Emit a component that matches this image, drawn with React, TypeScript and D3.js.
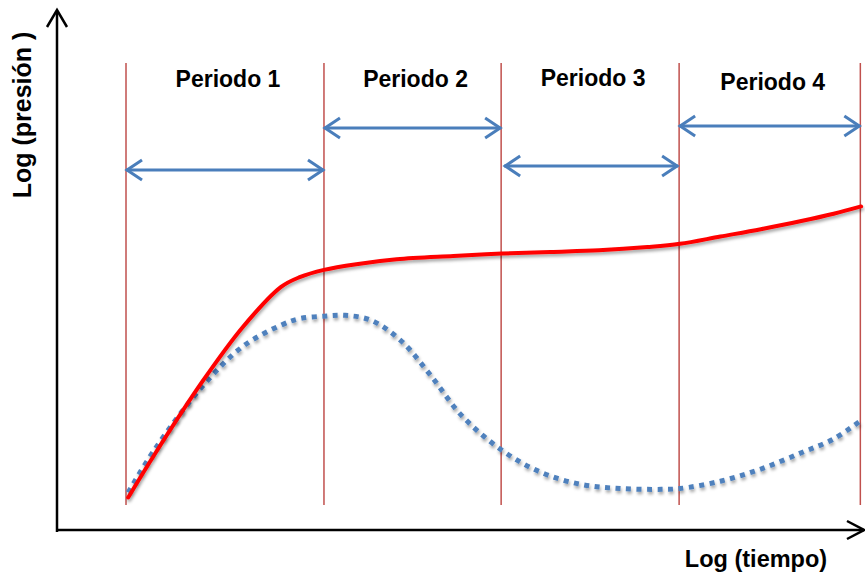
import React from "react";
import * as d3 from "d3";

// Abstract units: x = log(time) position, y = log(pressure) level
const periodBounds = [0.853, 3.3, 5.49, 7.69, 9.93];
const periodLabels = ["Periodo 1", "Periodo 2", "Periodo 3", "Periodo 4"];
const arrowLevels = [4.428, 4.945, 4.477, 4.969];
const labelLevels = [5.449, 5.449, 5.461, 5.412];

const redX = [0.88, 1.2, 1.8, 2.3, 2.77, 3.0, 3.3, 3.7, 4.2, 4.9, 5.5, 6.1, 6.7, 7.3, 7.7, 8.2, 8.7, 9.2, 9.6, 9.94];
const redY = [0.4, 0.92, 1.83, 2.5, 2.99, 3.11, 3.2, 3.27, 3.33, 3.37, 3.4, 3.42, 3.44, 3.48, 3.52, 3.61, 3.7, 3.8, 3.89, 3.98];

const blueX = [0.88, 1.2, 1.8, 2.3, 2.77, 3.0, 3.3, 3.56, 3.88, 4.25, 4.62, 5.0, 5.5, 5.98, 6.48, 6.97, 7.47, 7.7, 8.2, 8.7, 9.2, 9.6, 9.94];
const blueY = [0.46, 0.98, 1.77, 2.26, 2.52, 2.6, 2.63, 2.64, 2.58, 2.33, 1.9, 1.41, 0.98, 0.71, 0.56, 0.51, 0.5, 0.51, 0.6, 0.75, 0.95, 1.12, 1.35];

const xAxisLabel = "Log (tiempo)";
const yAxisLabel = "Log (presión )";

const W = 865;
const H = 573;
const x0 = 57;
const yBase = 530;

export default function App() {
  const x = d3.scaleLinear().domain([0, 10]).range([x0, x0 + 809]);
  const y = d3.scaleLinear().domain([0, 6.5]).range([yBase, yBase - 6.5 * 81.3]);

  const mk = (xs: number[], ys: number[]) =>
    d3
      .line<[number, number]>()
      .x((d) => x(d[0]))
      .y((d) => y(d[1]))
      .curve(d3.curveCatmullRom.alpha(0.5))(xs.map((v, i) => [v, ys[i]]))!;

  const redPath = mk(redX, redY);
  const bluePath = mk(blueX, blueY);

  const font = "Liberation Sans, Arial, sans-serif";
  const blue = "#4A7EBB";
  const vTop = 63;
  const vBot = 505;

  return (
    <svg width={W} height={H} style={{ position: "absolute", left: 0, top: 0, background: "#fff" }}>
      <defs>
        <filter id="sh" x="-10%" y="-10%" width="120%" height="130%">
          <feDropShadow dx="1" dy="2.5" stdDeviation="1.6" floodColor="#000" floodOpacity="0.35" />
        </filter>
      </defs>

      {/* axes */}
      <line x1={x0} y1={yBase + 2} x2={x0} y2={11} stroke="#000" strokeWidth={2.5} />
      <polyline points={`${x0 - 10},${27} ${x0},${10} ${x0 + 10},${27}`} fill="none" stroke="#000" strokeWidth={2.5} />
      <line x1={x0 - 1} y1={yBase} x2={W - 1} y2={yBase} stroke="#000" strokeWidth={2.5} />
      <polyline points={`${W - 18},${yBase - 9} ${W - 1},${yBase} ${W - 18},${yBase + 9}`} fill="none" stroke="#000" strokeWidth={2.5} />

      {/* period boundaries */}
      {periodBounds.map((b, i) => (
        <line key={i} x1={x(b)} x2={x(b)} y1={vTop} y2={vBot} stroke="#C0504D" strokeWidth={1.5} />
      ))}

      {/* period arrows */}
      {periodLabels.map((lab, i) => {
        const xa = x(periodBounds[i]) + (i === 2 ? 3 : 0);
        const xb = x(periodBounds[i + 1]) - (i === 2 ? 1 : 0);
        const ya = y(arrowLevels[i]);
        return (
          <g key={lab}>
            <line x1={xa} x2={xb} y1={ya} y2={ya} stroke={blue} strokeWidth={3} />
            <polyline points={`${xa + 16},${ya - 10} ${xa + 1},${ya} ${xa + 16},${ya + 10}`} fill="none" stroke={blue} strokeWidth={3} />
            <polyline points={`${xb - 16},${ya - 10} ${xb - 1},${ya} ${xb - 16},${ya + 10}`} fill="none" stroke={blue} strokeWidth={3} />
            <text
              x={(x(periodBounds[i]) + x(periodBounds[i + 1])) / 2 + 3}
              y={y(labelLevels[i])}
              textAnchor="middle"
              fontFamily={font}
              fontWeight="bold"
              fontSize={23}
              fill="#000"
            >
              {lab}
            </text>
          </g>
        );
      })}

      {/* curves */}
      <path d={bluePath} fill="none" stroke="#4F81BD" strokeWidth={5} strokeDasharray="5,5.5" filter="url(#sh)" />
      <path d={redPath} fill="none" stroke="#FF0000" strokeWidth={4} strokeLinecap="round" filter="url(#sh)" />

      {/* axis labels */}
      <text x={756} y={567} textAnchor="middle" fontFamily={font} fontWeight="bold" fontSize={23.5} fill="#000">
        {xAxisLabel}
      </text>
      <text
        transform={`translate(31,115) rotate(-90)`}
        textAnchor="middle"
        fontFamily={font}
        fontWeight="bold"
        fontSize={25}
        fill="#000"
      >
        {yAxisLabel}
      </text>
    </svg>
  );
}
